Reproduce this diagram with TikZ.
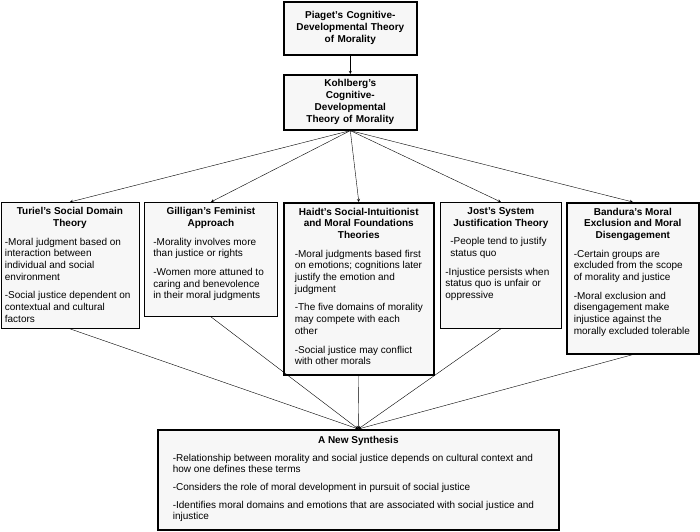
\documentclass[tikz,border=0pt]{standalone}
\usepackage{fontspec}
\setmainfont{Liberation Sans}
\usetikzlibrary{arrows}
\definecolor{boxfill}{gray}{0.97}
\newcommand{\boxtext}[3]{\begin{minipage}[t][#1][t]{#2}\raggedright\setlength{\parskip}{7pt}#3\end{minipage}}
\newcommand{\boxhead}[1]{{\centering\bfseries #1\par}}
\tikzset{
  topbox/.style={draw,line width=1.6pt,fill=boxfill,align=center,inner sep=0pt,anchor=north west,
    font=\bfseries\fontsize{10}{12}\selectfont},
  thinbox/.style={draw,line width=0.8pt,fill=boxfill,inner xsep=4pt,inner ysep=5pt,anchor=north west,
    font=\fontsize{10}{11.7}\selectfont},
  thickbox/.style={thinbox,line width=1.6pt}
}

\begin{document}
\begin{tikzpicture}[x=1pt,y=-1pt,>=stealth]
\useasboundingbox (0,0) rectangle (700,531);
\node[topbox,minimum width=133pt,minimum height=53pt,text width=125pt](piaget) at (283,1)
  {Piaget's Cognitive-\\Developmental Theory\\of Morality};
\node[topbox,minimum width=133pt,minimum height=55pt,text width=125pt](kohlberg) at (283,74)
  {Kohlberg's\\Cognitive-\\Developmental\\Theory of Morality};
\draw[->](piaget)--(kohlberg);

\node[thinbox](turiel) at (0.5,202){\boxtext{116pt}{130pt}{%
  \boxhead{Turiel's Social Domain\\Theory}
  -Moral judgment based on\\interaction between\\individual and social\\environment\par
  -Social justice dependent on\\contextual and cultural\\factors}};
\node[thinbox,inner xsep=9pt](gilligan) at (144,202){\boxtext{104pt}{115pt}{%
  \boxhead{Gilligan's Feminist\\Approach}
  -Morality involves more\\than justice or rights\par
  -Women more attuned to\\caring and benevolence\\in their moral judgments}};
\node[thickbox,inner xsep=11pt](haidt) at (283,202){\boxtext{162pt}{128pt}{%
  \boxhead{Haidt's Social-Intuitionist\\and Moral Foundations\\Theories}
  -Moral judgments based first\\on emotions; cognitions later\\justify the emotion and\\judgment\par
  -The five domains of morality\\may compete with each\\other\par
  -Social justice may conflict\\with other morals}};
\node[thinbox,inner xsep=5pt](jost) at (440,202){\boxtext{116pt}{111pt}{%
  \boxhead{Jost's System\\Justification Theory}
  {\leftskip=5pt -People tend to justify\\status quo\par}
  -Injustice persists when\\status quo is unfair or\\oppressive}};
\node[thickbox,inner xsep=7pt](bandura) at (566,202){\boxtext{141pt}{118pt}{%
  \boxhead{Bandura's Moral\\Exclusion and Moral\\Disengagement}
  -Certain groups are\\excluded from the scope\\of morality and justice\par
  -Moral exclusion and\\disengagement make\\injustice against the\\morally excluded tolerable}};

\node[thickbox,inner xsep=15pt,inner ysep=6pt,font=\fontsize{10}{11}\selectfont](synth) at (157,429)
  {\boxtext{88pt}{371pt}{%
  \boxhead{A New Synthesis}
  -Relationship between morality and social justice depends on cultural context and\\how one defines these terms\par
  -Considers the role of moral development in pursuit of social justice\par
  -Identifies moral domains and emotions that are associated with social justice and\\injustice}};

\foreach \b in {turiel,gilligan,haidt,jost,bandura}{
  \draw[->](kohlberg.south)--(\b.north);
  \draw[->](\b.south)--(synth.north);
}
\end{tikzpicture}
\end{document}
